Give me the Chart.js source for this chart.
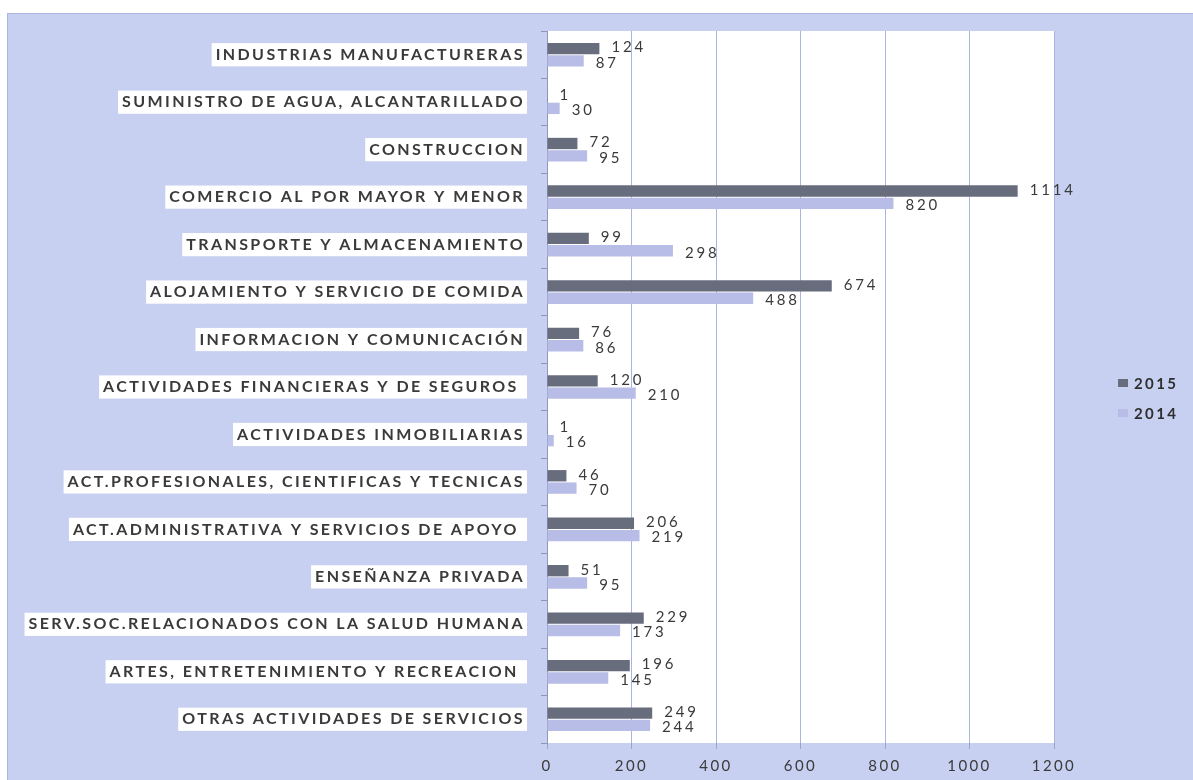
<!DOCTYPE html>
<html>
<head>
<meta charset="utf-8">
<script src="https://cdn.jsdelivr.net/npm/chart.js@4.4.1/dist/chart.umd.min.js"></script>
<style>
  html, body { margin: 0; padding: 0; background: #ffffff; }
  canvas { display: block; }
</style>
</head>
<body>
<canvas id="c" width="1193" height="780"></canvas>
<script>
// Sectores económicos
const categories = [
  "INDUSTRIAS MANUFACTURERAS",
  "SUMINISTRO DE AGUA, ALCANTARILLADO",
  "CONSTRUCCION",
  "COMERCIO AL POR MAYOR Y MENOR",
  "TRANSPORTE Y ALMACENAMIENTO",
  "ALOJAMIENTO Y SERVICIO DE COMIDA",
  "INFORMACION Y COMUNICACIÓN",
  "ACTIVIDADES FINANCIERAS Y DE SEGUROS ",
  "ACTIVIDADES INMOBILIARIAS",
  "ACT.PROFESIONALES, CIENTIFICAS Y TECNICAS",
  "ACT.ADMINISTRATIVA Y SERVICIOS DE APOYO ",
  "ENSEÑANZA PRIVADA",
  "SERV.SOC.RELACIONADOS CON LA SALUD HUMANA",
  "ARTES, ENTRETENIMIENTO Y RECREACION ",
  "OTRAS ACTIVIDADES DE SERVICIOS"
];
const values2015 = [124, 1, 72, 1114, 99, 674, 76, 120, 1, 46, 206, 51, 229, 196, 249];
const values2014 = [87, 30, 95, 820, 298, 488, 86, 210, 16, 70, 219, 95, 173, 145, 244];
const seriesNames = ["2015", "2014"];
const xTicks = [0, 200, 400, 600, 800, 1000, 1200];

const COLOR_2015 = "#686d7e";
const COLOR_2014 = "#b7bde6";
const PANEL = "#c8d0f1";
const TEXT = "#3a3a3a";
const SPACING = "2.4px";

// Panel background, white plot area and wide letter spacing for all text
const backgroundPlugin = {
  id: "panel",
  beforeUpdate(chart) { chart.ctx.letterSpacing = SPACING; },
  beforeDraw(chart) {
    const ctx = chart.ctx;
    const a = chart.chartArea;
    ctx.letterSpacing = SPACING;
    ctx.save();
    ctx.fillStyle = "#ffffff";
    ctx.fillRect(0, 0, chart.width, chart.height);
    ctx.fillStyle = PANEL;
    ctx.fillRect(7, 13, chart.width - 7, chart.height - 13);
    ctx.strokeStyle = "#aab4dc";
    ctx.lineWidth = 1;
    ctx.beginPath();
    ctx.moveTo(7.5, chart.height);
    ctx.lineTo(7.5, 13.5);
    ctx.lineTo(chart.width, 13.5);
    ctx.stroke();
    ctx.fillStyle = "#ffffff";
    ctx.fillRect(a.left, a.top, a.right - a.left, a.bottom - a.top);
    ctx.restore();
  }
};

// Value labels next to each bar
const valueLabels = {
  id: "valueLabels",
  afterDatasetsDraw(chart) {
    const ctx = chart.ctx;
    ctx.save();
    ctx.letterSpacing = "2.8px";
    ctx.font = "15px Lato";
    ctx.fillStyle = TEXT;
    ctx.textAlign = "left";
    ctx.textBaseline = "middle";
    const dy = [-1, 2];
    chart.data.datasets.forEach((ds, di) => {
      const meta = chart.getDatasetMeta(di);
      meta.data.forEach((bar, i) => {
        ctx.fillText(String(ds.data[i]), bar.x + 12, bar.y + dy[di]);
      });
    });
    ctx.restore();
  }
};

// Legend on the right side
const sideLegend = {
  id: "sideLegend",
  afterDraw(chart) {
    const ctx = chart.ctx;
    ctx.save();
    ctx.letterSpacing = SPACING;
    ctx.font = "bold 15px Lato";
    ctx.textAlign = "left";
    ctx.textBaseline = "middle";
    const rows = [383, 413];
    chart.data.datasets.forEach((ds, i) => {
      const y = rows[i];
      ctx.fillStyle = ds.backgroundColor;
      ctx.fillRect(1118, y - 4, 10, 8);
      ctx.fillStyle = "#2e2e2e";
      ctx.fillText(ds.label, 1134, y + 1);
    });
    ctx.restore();
  }
};

new Chart(document.getElementById("c"), {
  type: "bar",
  data: {
    labels: categories,
    datasets: [
      { label: seriesNames[0], data: values2015, backgroundColor: COLOR_2015,
        categoryPercentage: 0.52, barPercentage: 0.92 },
      { label: seriesNames[1], data: values2014, backgroundColor: COLOR_2014,
        categoryPercentage: 0.52, barPercentage: 0.92 }
    ]
  },
  options: {
    indexAxis: "y",
    responsive: false,
    animation: false,
    devicePixelRatio: 1,
    layout: { padding: { top: 31, right: 139, bottom: 0, left: 7 } },
    plugins: { legend: { display: false }, tooltip: { enabled: false } },
    scales: {
      y: {
        afterFit(s) { s.width = 540; },
        grid: { drawOnChartArea: false, tickLength: 6, color: "#8f98bb", offset: true },
        border: { color: "#8f98bb" },
        ticks: {
          font: { family: "Lato", size: 16, weight: "bold" },
          color: TEXT,
          padding: 16,
          showLabelBackdrop: true,
          backdropColor: "#ffffff",
          backdropPadding: { left: 4, right: 2, top: 2, bottom: 2 }
        }
      },
      x: {
        min: xTicks[0],
        max: xTicks[xTicks.length - 1],
        afterFit(s) { s.height = 37; },
        afterBuildTicks(s) { s.ticks = xTicks.map(v => ({ value: v })); },
        grid: { color: "#aab4de", tickLength: 6, tickColor: "#9aa4cc" },
        border: { display: false },
        ticks: {
          font: { family: "Lato", size: 15 },
          color: TEXT,
          padding: 8,
          callback: (v) => String(v)
        }
      }
    }
  },
  plugins: [backgroundPlugin, valueLabels, sideLegend]
});
</script>
</body>
</html>
